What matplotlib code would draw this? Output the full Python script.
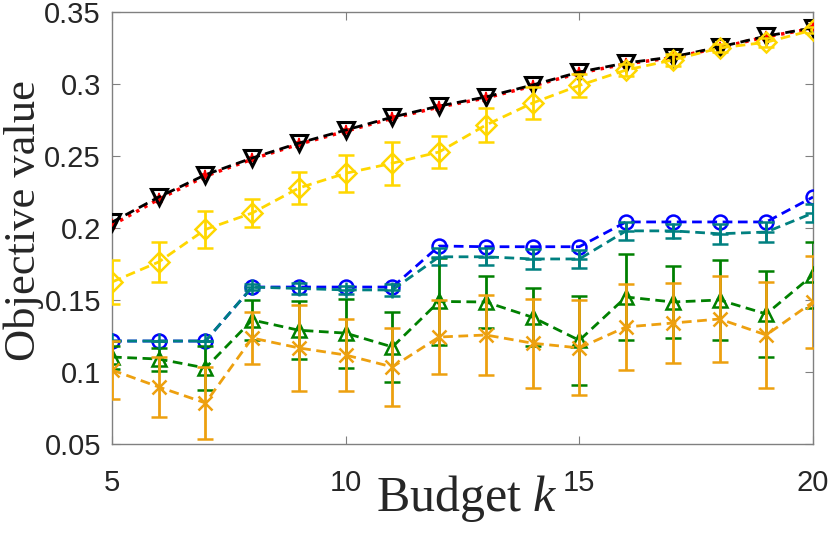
import matplotlib.pyplot as plt
import numpy as np

k = np.arange(5, 21)

black_vals = [0.204, 0.2215, 0.237, 0.2486, 0.259, 0.268, 0.277, 0.2847,
              0.291, 0.2993, 0.3083, 0.3146, 0.3188, 0.3257, 0.3333, 0.339]
red_vals = [0.202, 0.220, 0.236, 0.2478, 0.2582, 0.2672, 0.2762, 0.284,
            0.2903, 0.2986, 0.3076, 0.3140, 0.3183, 0.3252, 0.3328, 0.3386]
yellow_vals = [0.1625, 0.1764, 0.199, 0.2104, 0.2278, 0.238, 0.245, 0.2528,
               0.2715, 0.2868, 0.299, 0.3097, 0.3167, 0.325, 0.329, 0.3375]
yellow_err = [0.015, 0.014, 0.013, 0.010, 0.011, 0.013, 0.015, 0.011,
              0.012, 0.011, 0.008, 0.004, 0.004, 0.003, 0.003, 0.002]
blue_vals = [0.1215, 0.1215, 0.1215, 0.159, 0.159, 0.159, 0.159, 0.1875,
             0.187, 0.187, 0.187, 0.2042, 0.2042, 0.2042, 0.2042, 0.2215]
teal_vals = [0.1215, 0.1215, 0.1215, 0.159, 0.158, 0.157, 0.157, 0.180,
             0.180, 0.1785, 0.1785, 0.198, 0.198, 0.196, 0.1972, 0.2104]
teal_err = [0.0, 0.0, 0.0, 0.002, 0.004, 0.003, 0.004, 0.006,
            0.006, 0.007, 0.006, 0.006, 0.005, 0.007, 0.007, 0.006]
green_vals = [0.1104, 0.109, 0.1028, 0.1361, 0.129, 0.127, 0.1174, 0.149,
              0.1486, 0.138, 0.122, 0.1521, 0.1486, 0.150, 0.1403, 0.1674]
green_err = [0.008, 0.008, 0.015, 0.014, 0.020, 0.024, 0.024, 0.030,
             0.018, 0.020, 0.031, 0.030, 0.025, 0.028, 0.030, 0.023]
orange_vals = [0.1014, 0.0896, 0.0785, 0.1236, 0.1167, 0.1118, 0.1035, 0.1243,
               0.1257, 0.120, 0.1167, 0.1313, 0.134, 0.1368, 0.1257, 0.1486]
orange_err = [0.020, 0.021, 0.025, 0.018, 0.030, 0.025, 0.027, 0.026,
              0.028, 0.031, 0.033, 0.030, 0.028, 0.030, 0.037, 0.032]

xticks = [5, 10, 15, 20]
yticks = [0.05, 0.1, 0.15, 0.2, 0.25, 0.3, 0.35]
yticklabels = ['0.05', '0.1', '0.15', '0.2', '0.25', '0.3', '0.35']


def plot_data():
    fig = plt.figure(figsize=(8.3, 5.39), dpi=100)
    ax = fig.add_axes([112/830, 1 - 444/539, (813-112)/830, (444-12)/539])
    dash = (3.5, 2.0)
    lw = 2.0
    mew = 1.8
    cap = 6

    ax.plot(k, blue_vals, ls='--', dashes=dash, c='#0000FF', lw=lw,
            marker='o', ms=10, mfc='none', mew=mew, zorder=3)
    ax.errorbar(k, teal_vals, yerr=teal_err, ls='--', dashes=dash, c='#008080',
                lw=lw, marker='+', ms=12, mew=mew, capsize=cap, capthick=lw,
                elinewidth=lw, zorder=4)
    ax.errorbar(k, green_vals, yerr=green_err, ls='--', dashes=dash, c='#008000',
                lw=lw, marker='^', ms=10, mfc='none', mew=mew, capsize=cap,
                capthick=lw, elinewidth=lw, zorder=4)
    ax.errorbar(k, orange_vals, yerr=orange_err, ls='--', dashes=dash, c='#EDA00F',
                lw=lw, marker='x', ms=10, mew=mew, capsize=cap, capthick=lw,
                elinewidth=lw, zorder=5)
    ax.plot(k, red_vals, ls=':', c='#FF0000', lw=lw + 0.5, marker='*', ms=8,
            mew=1.2, zorder=6)
    ax.plot(k, black_vals, ls='--', dashes=dash, c='k', lw=lw, marker='v',
            ms=11, mfc='none', mew=2.2, zorder=7)
    ax.errorbar(k, yellow_vals, yerr=yellow_err, ls='--', dashes=dash, c='#FFD700',
                lw=lw, marker='D', ms=10, mfc='none', mew=mew, capsize=cap,
                capthick=lw, elinewidth=lw, zorder=8)

    ax.set_xlim(5, 20)
    ax.set_ylim(0.05, 0.35)
    ax.set_xticks(xticks)
    ax.set_xticklabels([str(v) for v in xticks])
    ax.set_yticks(yticks)
    ax.set_yticklabels(yticklabels)
    for lab in ax.get_xticklabels() + ax.get_yticklabels():
        lab.set_family('Liberation Sans')
        lab.set_fontsize(21)
        lab.set_color('#262626')

    ax.set_xlabel(r'Budget $k$', fontsize=36, family='Liberation Serif',
                  color='#262626')
    ax.set_ylabel('Objective value', fontsize=32, family='Liberation Serif',
                  color='#262626')
    ax.xaxis.set_label_coords(0.506, -0.068)
    ax.yaxis.set_label_coords(-0.097, 0.518)

    for sp in ax.spines.values():
        sp.set_color('#808080')
        sp.set_linewidth(1.0)
    ax.tick_params(which='both', direction='in', top=True, right=True,
                   length=6, color='#808080')
    ax.tick_params(axis='x', pad=18)
    ax.tick_params(axis='y', pad=8)
    fig.savefig('out.png', dpi=100)
    plt.close()


if __name__ == '__main__':
    plt.rcParams.update({"mathtext.fontset": "custom",
                         "mathtext.it": "Liberation Serif:italic",
                         "mathtext.rm": "Liberation Serif"})
    plot_data()
